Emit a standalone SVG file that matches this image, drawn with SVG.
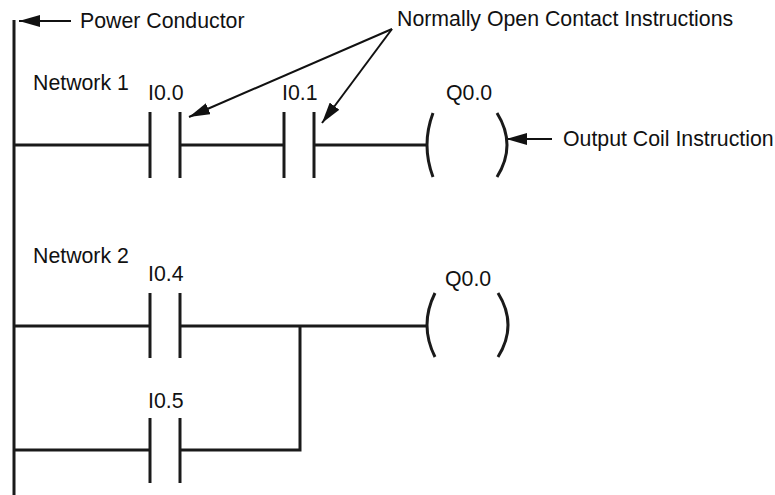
<svg xmlns="http://www.w3.org/2000/svg" width="775" height="495" viewBox="0 0 775 495">
<style>
.w{stroke:#1a1a1a;stroke-width:3;fill:none}
.p{stroke:#1a1a1a;stroke-width:3;fill:none}
.ld{stroke:#111;stroke-width:2;fill:none}
text{font-family:"Liberation Sans",Arial,sans-serif;font-size:21.3px;fill:#111}
</style>
<defs>
<marker id="ah" markerUnits="userSpaceOnUse" markerWidth="21" markerHeight="12" viewBox="0 0 21 12" refX="21" refY="6" orient="auto">
<path d="M0,0 L21,6 L0,12 Z" fill="#111"/>
</marker>
</defs>
<rect width="775" height="495" fill="#fff"/>
<g id="connectors">
<line class="w" x1="14" y1="20" x2="14" y2="495"/>
<polyline class="w" points="14,145 150,145"/>
<polyline class="w" points="180,145 284,145"/>
<polyline class="w" points="314,145 427,145"/>
<polyline class="w" points="14,326 150,326"/>
<polyline class="w" points="180,326 427,326"/>
<polyline class="w" points="14,450 150,450"/>
<polyline class="w" points="180,450 300,450 300,326"/>
<line class="ld" x1="71" y1="21" x2="19" y2="21" marker-end="url(#ah)"/>
<line class="ld" x1="552" y1="139" x2="506" y2="139" marker-end="url(#ah)"/>
<line class="ld" x1="392" y1="29" x2="189" y2="117" marker-end="url(#ah)"/>
<line class="ld" x1="392" y1="29" x2="322" y2="123" marker-end="url(#ah)"/>
</g>
<g id="power-label"><text x="80" y="28">Power Conductor</text></g>
<g id="no-label"><text x="397" y="26">Normally Open Contact Instructions</text></g>
<g id="coil-label"><text x="563" y="146">Output Coil Instruction</text></g>
<g id="network1"><text x="33" y="90">Network 1</text></g>
<g id="network2"><text x="33" y="263">Network 2</text></g>
<g id="I0.0"><text x="148" y="100">I0.0</text>
<line class="p" x1="150" y1="112" x2="150" y2="178"/><line class="p" x1="180" y1="112" x2="180" y2="178"/></g>
<g id="I0.1"><text x="282" y="100">I0.1</text>
<line class="p" x1="284" y1="112" x2="284" y2="178"/><line class="p" x1="314" y1="112" x2="314" y2="178"/></g>
<g id="Q0.0-1"><text x="446" y="100">Q0.0</text>
<path class="p" d="M433,113 Q421,145 433,177"/><path class="p" d="M497,113 Q517,145 497,177"/></g>
<g id="I0.4"><text x="148" y="281">I0.4</text>
<line class="p" x1="150" y1="293" x2="150" y2="358"/><line class="p" x1="180" y1="293" x2="180" y2="358"/></g>
<g id="Q0.0-2"><text x="445" y="286">Q0.0</text>
<path class="p" d="M435,293 Q419,325 435,357"/><path class="p" d="M498,293 Q518,325 498,357"/></g>
<g id="I0.5"><text x="148" y="408">I0.5</text>
<line class="p" x1="150" y1="418" x2="150" y2="483"/><line class="p" x1="180" y1="418" x2="180" y2="483"/></g>
</svg>
